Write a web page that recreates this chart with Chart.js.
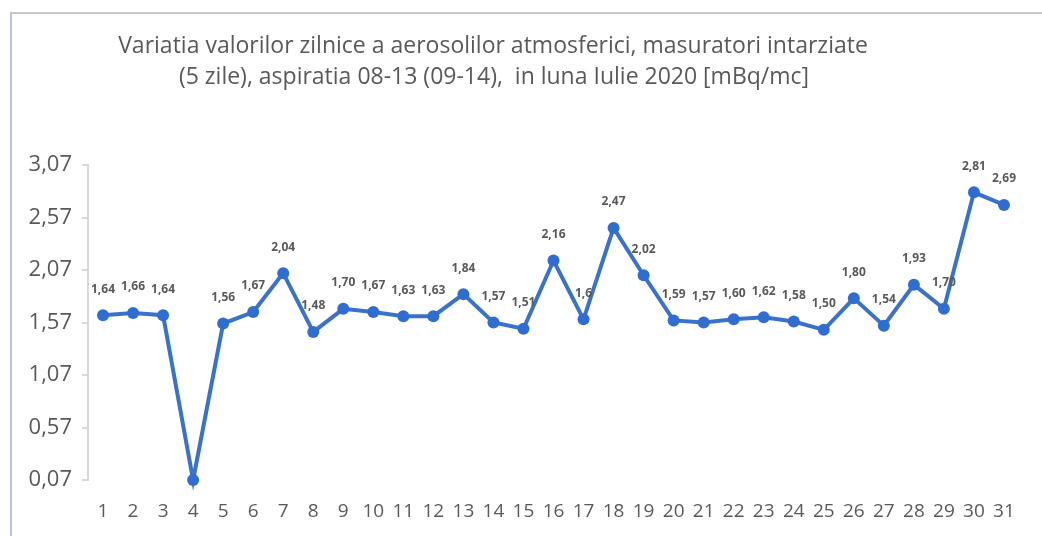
<!DOCTYPE html>
<html>
<head>
<meta charset="utf-8">
<script src="https://cdn.jsdelivr.net/npm/chart.js@4/dist/chart.umd.min.js"></script>
<style>
  html, body { margin: 0; padding: 0; background: #fff; }
  #wrap { width: 1042px; height: 536px; }
</style>
</head>
<body>
<div id="wrap"><canvas id="aerosoli"></canvas></div>
<script>
// zilele lunii iulie 2020
const days = ['1','2','3','4','5','6','7','8','9','10','11','12','13','14','15','16',
              '17','18','19','20','21','22','23','24','25','26','27','28','29','30','31'];
// valori [mBq/mc]
const values = [1.64, 1.66, 1.64, 0.07, 1.56, 1.67, 2.04, 1.48, 1.70, 1.67, 1.63, 1.63,
                1.84, 1.57, 1.51, 2.16, 1.60, 2.47, 2.02, 1.59, 1.57, 1.60, 1.62, 1.58,
                1.50, 1.80, 1.54, 1.93, 1.70, 2.81, 2.69];
// etichetele de deasupra punctelor
const dataLabels = ['1,64','1,66','1,64','','1,56','1,67','2,04','1,48','1,70','1,67','1,63','1,63',
                    '1,84','1,57','1,51','2,16','1,6','2,47','2,02','1,59','1,57','1,60','1,62','1,58',
                    '1,50','1,80','1,54','1,93','1,70','2,81','2,69'];
const yTicks = [0.07, 0.57, 1.07, 1.57, 2.07, 2.57, 3.07];
const titleLines = ['Variatia valorilor zilnice a aerosolilor atmosferici, masuratori intarziate',
                    '(5 zile), aspiratia 08-13 (09-14),  in luna Iulie 2020 [mBq/mc]'];

const textGray = '#595959';

// rama, titlu si etichete
const extras = {
  id: 'extras',
  beforeDraw(chart) {
    const ctx = chart.ctx;
    ctx.save();
    ctx.fillStyle = '#fff';
    ctx.fillRect(0, 0, chart.width, chart.height);
    ctx.lineWidth = 2;
    ctx.strokeStyle = '#c9c9c9';
    ctx.beginPath();
    ctx.moveTo(12, 13);
    ctx.lineTo(chart.width, 13);
    ctx.stroke();
    ctx.strokeStyle = '#b7c6d9';
    ctx.beginPath();
    ctx.moveTo(11, 12);
    ctx.lineTo(11, chart.height);
    ctx.stroke();

    ctx.fillStyle = textGray;
    ctx.font = '23px "Open Sans", sans-serif';
    ctx.textAlign = 'center';
    ctx.textBaseline = 'middle';
    ctx.fillText(titleLines[0], 493, 46);
    ctx.fillText(titleLines[1], 494, 77);
    ctx.restore();
  },
  afterDatasetsDraw(chart) {
    const ctx = chart.ctx;
    const meta = chart.getDatasetMeta(0);
    ctx.save();
    ctx.fillStyle = textGray;
    ctx.font = 'bold 12px "Open Sans", sans-serif';
    ctx.textAlign = 'center';
    ctx.textBaseline = 'middle';
    meta.data.forEach((pt, i) => {
      if (dataLabels[i]) ctx.fillText(dataLabels[i], pt.x, pt.y - 26);
    });
    ctx.restore();
  }
};

new Chart(document.getElementById('aerosoli'), {
  type: 'line',
  data: {
    labels: days,
    datasets: [{
      data: values,
      borderColor: '#3a72c9',
      backgroundColor: '#2f6dd1',
      borderWidth: 4,
      pointRadius: 6,
      pointBorderWidth: 0,
      pointBackgroundColor: '#2f6dd1',
      tension: 0,
      clip: false
    }]
  },
  options: {
    responsive: true,
    maintainAspectRatio: false,
    animation: false,
    layout: { padding: { top: 165, right: 23, bottom: 13, left: 0 } },
    plugins: {
      legend: { display: false },
      title: { display: false },
      tooltip: { enabled: false }
    },
    scales: {
      x: {
        offset: true,
        afterFit(scale) { scale.height = 43; },
        grid: { display: false, drawTicks: false },
        border: { display: false },
        ticks: {
          color: textGray,
          padding: 20,
          maxRotation: 0,
          autoSkip: false,
          font: { family: '"Open Sans", sans-serif', size: 19 }
        }
      },
      y: {
        min: 0.07,
        max: 3.07,
        afterFit(scale) { scale.width = 88; },
        afterBuildTicks(scale) { scale.ticks = yTicks.map(v => ({ value: v })); },
        grid: {
          drawOnChartArea: false,
          drawTicks: true,
          tickLength: 6,
          color: '#d9d9d9',
          lineWidth: 2
        },
        border: { display: true, color: '#d9d9d9', width: 2 },
        ticks: {
          color: textGray,
          padding: 10,
          font: { family: '"Open Sans", sans-serif', size: 22 },
          callback: v => v.toFixed(2).replace('.', ',')
        }
      }
    }
  },
  plugins: [extras]
});
</script>
</body>
</html>
